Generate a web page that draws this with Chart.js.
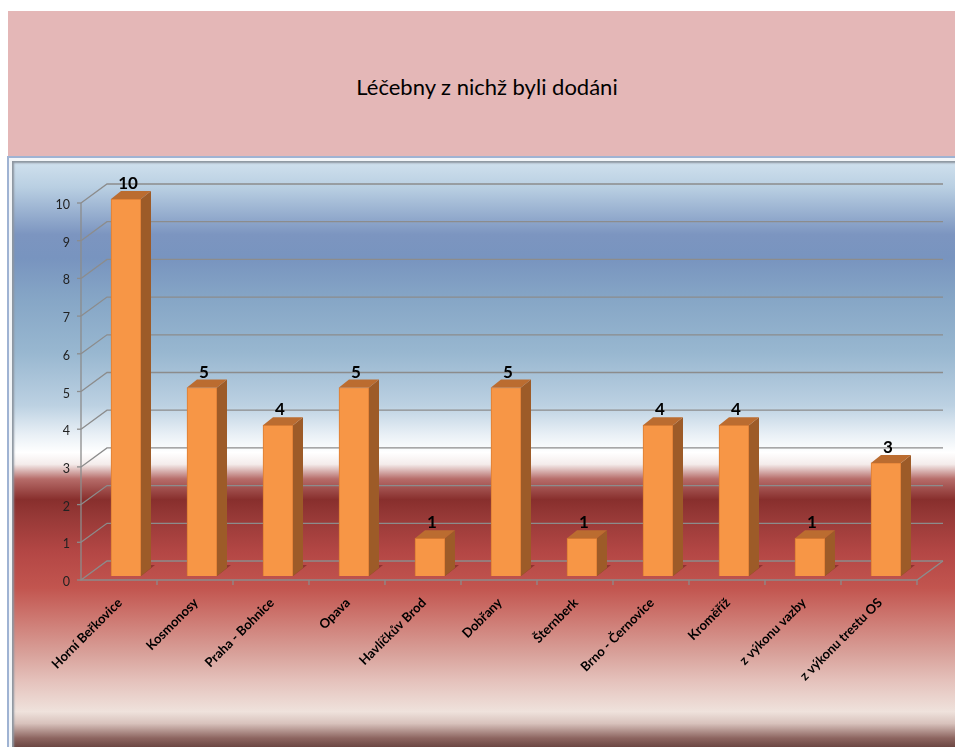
<!DOCTYPE html>
<html>
<head>
<meta charset="utf-8">
<script src="https://cdn.jsdelivr.net/npm/chart.js@4/dist/chart.umd.min.js"></script>
<style>
  html, body { margin: 0; padding: 0; background: #fff; }
  #wrap { position: relative; width: 955px; height: 747px; overflow: hidden; }
  #band { position: absolute; left: 8px; top: 11px; width: 947px; height: 145px; background: #e4b7b7; }
  #title { position: absolute; left: 0; width: 974px; top: 73px; text-align: center;
    font: 22px Lato, sans-serif; color: #000; line-height: 28px; }
  #frame {
    position: absolute; left: 7px; top: 156px; width: 948px; height: 591px;
    box-sizing: border-box; border-top: 2px solid #9fb3d3; border-left: 2px solid #9fb3d3;
    box-shadow: inset 3px 3px 0 #f2f5f8, inset 5px 5px 2px #8d96a0;
    background: linear-gradient(to bottom,
      #d3e3ef 0%, #b9cfe2 5%, #7c95c0 13%, #7894bf 17%, #86a6c6 24%,
      #98b7d0 33%, #bcd1e2 42%, #e9f0f6 47%, #ffffff 50%, #f4eceb 52%,
      #b66c69 54.5%, #882f2d 58%, #973937 61%, #b44745 67%, #c2554f 73%,
      #cd7770 78%, #d8a099 84%, #e5c3bd 89%, #efe2dc 94%, #d8c2bc 96%,
      #8d6560 98.5%, #6c4743 100%);
  }
  #c { position: absolute; left: 0; top: 0; }
</style>
</head>
<body>
<div id="wrap">
  <div id="band"></div>
  <div id="title"></div>
  <div id="frame"></div>
  <canvas id="c" width="955" height="747"></canvas>
</div>
<script>
const categories = ["Horní Beřkovice","Kosmonosy","Praha - Bohnice","Opava","Havlíčkův Brod",
  "Dobřany","Šternberk","Brno - Černovice","Kroměříž","z výkonu vazby","z výkonu trestu OS"];
const counts = [10, 5, 4, 5, 1, 5, 1, 4, 4, 1, 3];
const yMin = 0, yMax = 10, yStep = 1;
const title = "Léčebny z nichž byli dodáni";

document.getElementById("title").textContent = title;

// 3D offsets relative to the bar plane
const FRONT = {dx: -7, dy: 4};
const BACK = {dx: 19, dy: -15};
const DEPTH = {dx: 10, dy: -8};

const walls = {
  id: "walls",
  beforeDatasetsDraw(chart){
    const {ctx, chartArea: a, scales: {x, y}} = chart;
    ctx.save();
    ctx.strokeStyle = "#8c8c8c";
    ctx.lineWidth = 1.3;
    // bar shadows on the floor
    const meta = chart.getDatasetMeta(0);
    ctx.fillStyle = "rgba(80,15,15,0.4)";
    meta.data.forEach(b => {
      const r = b.x + b.width/2, base = b.base;
      ctx.beginPath();
      ctx.moveTo(r, base);
      ctx.lineTo(r + 14, base - 11);
      ctx.lineTo(r - 10, base - 11);
      ctx.lineTo(r - b.width/2, base - 2);
      ctx.closePath();
      ctx.fill();
    });
    y.ticks.forEach(t => {
      const py = y.getPixelForValue(t.value);
      ctx.beginPath();
      ctx.moveTo(a.left + FRONT.dx, py + FRONT.dy);
      ctx.lineTo(a.left + BACK.dx, py + BACK.dy);
      ctx.lineTo(a.right + BACK.dx, py + BACK.dy);
      ctx.stroke();
      ctx.beginPath();
      ctx.moveTo(a.left + FRONT.dx - 4, py + FRONT.dy);
      ctx.lineTo(a.left + FRONT.dx, py + FRONT.dy);
      ctx.stroke();
    });
    const b0 = y.getPixelForValue(yMin);
    ctx.beginPath();
    ctx.moveTo(a.left + FRONT.dx, y.getPixelForValue(yMax) + FRONT.dy);
    ctx.lineTo(a.left + FRONT.dx, b0 + FRONT.dy);
    ctx.lineTo(a.right + FRONT.dx, b0 + FRONT.dy);
    ctx.lineTo(a.right + BACK.dx, b0 + BACK.dy);
    ctx.stroke();
    const step = (a.right - a.left) / categories.length;
    for (let i = 1; i <= categories.length; i++) {
      const px = a.left + step * i + FRONT.dx;
      ctx.beginPath();
      ctx.moveTo(px, b0 + FRONT.dy);
      ctx.lineTo(px, b0 + FRONT.dy + 5);
      ctx.stroke();
    }
    ctx.restore();
  },
  afterDatasetsDraw(chart){
    const {ctx} = chart;
    const meta = chart.getDatasetMeta(0);
    ctx.save();
    meta.data.forEach((b, i) => {
      const l = b.x - b.width/2, r = b.x + b.width/2;
      ctx.fillStyle = "#9d5b28";
      ctx.beginPath();
      ctx.moveTo(r, b.y);
      ctx.lineTo(r + DEPTH.dx, b.y + DEPTH.dy);
      ctx.lineTo(r + DEPTH.dx, b.base + DEPTH.dy);
      ctx.lineTo(r, b.base);
      ctx.closePath();
      ctx.fill();
      ctx.fillStyle = "#bb6c30";
      ctx.beginPath();
      ctx.moveTo(l, b.y);
      ctx.lineTo(l + DEPTH.dx, b.y + DEPTH.dy);
      ctx.lineTo(r + DEPTH.dx, b.y + DEPTH.dy);
      ctx.lineTo(r, b.y);
      ctx.closePath();
      ctx.fill();
      ctx.fillStyle = "#000";
      ctx.font = "bold 17px Lato";
      ctx.textAlign = "center";
      ctx.textBaseline = "alphabetic";
      ctx.fillText(String(counts[i]), b.x + 2, b.y + DEPTH.dy - 2);
    });
    ctx.restore();
  }
};

new Chart(document.getElementById("c"), {
  type: "bar",
  data: {
    labels: categories,
    datasets: [{
      data: counts,
      backgroundColor: "#f79646",
      borderColor: "#dc7d33",
      borderWidth: 1,
      barThickness: 30
    }]
  },
  options: {
    responsive: false,
    animation: false,
    layout: {padding: {left: 0, right: 31, top: 199, bottom: 0}},
    plugins: {
      legend: {display: false},
      tooltip: {enabled: false}
    },
    scales: {
      x: {
        grid: {display: false},
        border: {display: false},
        ticks: {
          autoSkip: false, maxRotation: 45, minRotation: 45,
          labelOffset: -6, padding: 11,
          color: "#000", font: {family: "Lato", size: 13, weight: "bold"}
        },
        afterFit: s => { s.height = 171; }
      },
      y: {
        min: yMin, max: yMax,
        grid: {display: false},
        border: {display: false},
        ticks: {
          stepSize: yStep, padding: 10, labelOffset: 6,
          color: "#222", font: {family: "Lato", size: 12.5}
        },
        afterFit: s => { s.width = 88; }
      }
    }
  },
  plugins: [walls]
});
</script>
</body>
</html>
